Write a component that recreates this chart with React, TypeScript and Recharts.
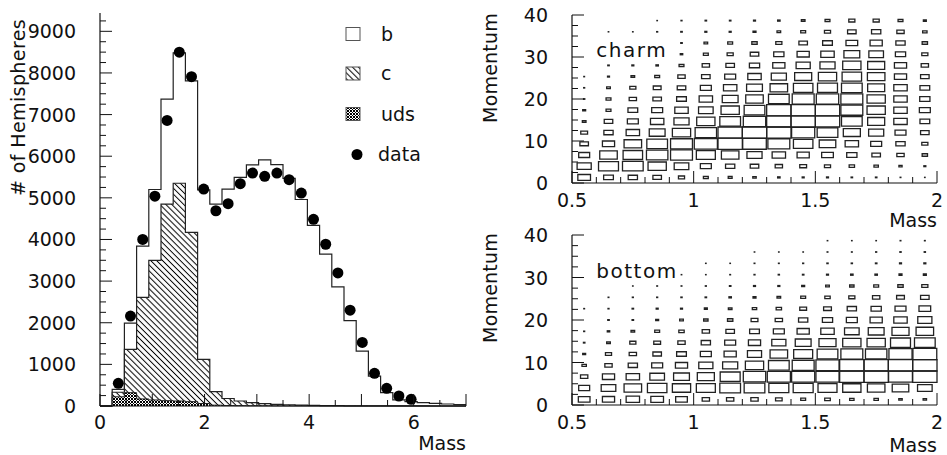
import React from "react";
import {
  ComposedChart,
  Area,
  Scatter,
  XAxis,
  YAxis,
  Legend,
  Label,
  ReferenceArea,
  ReferenceDot,
} from "recharts";

const FONT = "DejaVu Sans, sans-serif";
const INK = "#111";

// mass spectrum: 30 bins from 0 to 7
const massBins = 30;
const massMax = 7;
const bTotal = [0, 400, 1990, 3840, 5200, 7370, 8480, 7810, 5190, 4850, 5210, 5490, 5790, 5910, 5800, 5470, 4960, 4340, 3650, 2860, 2050, 1320, 720, 320, 145, 105, 80, 64, 48, 32];
const cHatched = [0, 330, 1360, 2610, 3500, 4850, 5350, 4170, 1120, 345, 180, 120, 80, 55, 40, 30, 20, 15, 10, 8, 5, 4, 3, 2, 2, 1, 1, 0, 0, 0];
const udsCross = [0, 220, 320, 170, 145, 128, 120, 104, 60, 20, 10, 8, 5, 4, 3, 2, 2, 1, 1, 0, 0, 0, 0, 0, 0, 0, 0, 0, 0, 0];
// measured points, bins 1..25
const dataCounts = [544, 2160, 4000, 5040, 6860, 8500, 7910, 5210, 4690, 4860, 5340, 5595, 5516, 5595, 5436, 5115, 4484, 3885, 3197, 2302, 1527, 784, 424, 240, 160];
const legendLabels = ["b", "c", "uds", "data"];

const massTicks = [0, 0.5, 1, 1.5, 2, 2.5, 3, 3.5, 4, 4.5, 5, 5.5, 6, 6.5, 7];
const hemiTicks = Array.from({ length: 38 }, (_, i) => i * 250);

// momentum vs mass, box size per cell (15 mass bins x 15 momentum bins), lowest momentum first
const charmBoxes = [
  [0.52, 0.4, 0.38, 0.35, 0.25, 0.2, 0.16, 0.14, 0.1, 0.08, 0.08, 0.06, 0.06, 0.03, 0.02],
  [0.58, 0.82, 0.85, 0.75, 0.6, 0.45, 0.38, 0.35, 0.3, 0.28, 0.25, 0.22, 0.18, 0.13, 0.08],
  [0.45, 0.72, 0.8, 0.88, 0.9, 0.78, 0.72, 0.62, 0.55, 0.5, 0.48, 0.42, 0.35, 0.3, 0.22],
  [0.35, 0.5, 0.72, 0.85, 0.9, 0.95, 1, 0.97, 0.9, 0.8, 0.68, 0.55, 0.45, 0.38, 0.25],
  [0.28, 0.38, 0.55, 0.65, 0.75, 0.88, 1, 1, 1, 0.95, 0.85, 0.7, 0.62, 0.45, 0.35],
  [0.15, 0.35, 0.45, 0.55, 0.62, 0.75, 0.85, 0.92, 1, 1, 1, 0.85, 0.7, 0.55, 0.4],
  [0.12, 0.2, 0.4, 0.45, 0.55, 0.6, 0.75, 0.85, 1, 1, 1, 0.9, 0.75, 0.55, 0.45],
  [0.05, 0.2, 0.3, 0.35, 0.4, 0.55, 0.65, 0.72, 0.85, 0.9, 0.92, 0.9, 0.75, 0.55, 0.42],
  [0.04, 0.15, 0.25, 0.32, 0.35, 0.45, 0.55, 0.65, 0.72, 0.8, 0.82, 0.85, 0.7, 0.55, 0.4],
  [0.03, 0.08, 0.15, 0.2, 0.3, 0.35, 0.45, 0.55, 0.62, 0.7, 0.75, 0.8, 0.72, 0.5, 0.35],
  [0, 0.06, 0.08, 0.1, 0.2, 0.3, 0.35, 0.42, 0.5, 0.58, 0.62, 0.75, 0.7, 0.5, 0.3],
  [0, 0, 0, 0, 0.1, 0.2, 0.25, 0.35, 0.42, 0.5, 0.55, 0.65, 0.6, 0.42, 0.25],
  [0, 0, 0, 0, 0.06, 0.15, 0.2, 0.22, 0.25, 0.35, 0.4, 0.48, 0.5, 0.38, 0.22],
  [0, 0.02, 0.02, 0.04, 0.06, 0.08, 0.08, 0.12, 0.15, 0.2, 0.25, 0.35, 0.38, 0.3, 0.18],
  [0, 0, 0, 0.02, 0.04, 0.06, 0.06, 0.08, 0.1, 0.15, 0.2, 0.25, 0.25, 0.2, 0.12],
];
const bottomBoxes = [
  [0.48, 0.5, 0.55, 0.52, 0.48, 0.3, 0.3, 0.3, 0.27, 0.2, 0.23, 0.18, 0.18, 0.14, 0.14],
  [0.45, 0.6, 0.72, 0.8, 0.75, 0.78, 0.85, 0.85, 0.82, 0.82, 0.78, 0.75, 0.72, 0.68, 0.6],
  [0.3, 0.5, 0.55, 0.6, 0.65, 0.7, 0.82, 0.92, 0.95, 0.95, 0.95, 1, 1, 0.98, 1],
  [0.18, 0.3, 0.38, 0.45, 0.5, 0.58, 0.62, 0.75, 0.85, 0.9, 0.95, 1, 1, 1, 1],
  [0.12, 0.25, 0.3, 0.35, 0.4, 0.45, 0.5, 0.58, 0.72, 0.78, 0.85, 0.9, 0.88, 0.95, 0.98],
  [0.06, 0.15, 0.25, 0.28, 0.3, 0.38, 0.45, 0.5, 0.58, 0.65, 0.7, 0.75, 0.75, 0.82, 0.85],
  [0.04, 0.1, 0.15, 0.2, 0.22, 0.3, 0.35, 0.4, 0.45, 0.5, 0.55, 0.6, 0.65, 0.7, 0.72],
  [0, 0.06, 0.06, 0.12, 0.15, 0.18, 0.22, 0.28, 0.3, 0.38, 0.42, 0.45, 0.5, 0.55, 0.58],
  [0.03, 0.04, 0.06, 0.08, 0.08, 0.12, 0.15, 0.18, 0.22, 0.28, 0.32, 0.38, 0.42, 0.45, 0.48],
  [0, 0.03, 0.04, 0.04, 0.05, 0.06, 0.1, 0.12, 0.15, 0.2, 0.22, 0.25, 0.3, 0.32, 0.35],
  [0, 0, 0.02, 0.03, 0.03, 0.04, 0.06, 0.08, 0.08, 0.12, 0.15, 0.18, 0.2, 0.22, 0.25],
  [0, 0, 0, 0, 0.02, 0.02, 0.03, 0.04, 0.05, 0.06, 0.08, 0.1, 0.1, 0.12, 0.12],
  [0, 0, 0, 0, 0, 0.02, 0.02, 0.03, 0.03, 0.04, 0.05, 0.05, 0.06, 0.08, 0.08],
  [0, 0, 0, 0, 0, 0, 0, 0.02, 0.02, 0.02, 0.03, 0.03, 0.04, 0.05, 0.05],
  [0, 0, 0, 0, 0, 0, 0, 0, 0, 0, 0.02, 0.02, 0.02, 0.03, 0.03],
];
const boxMassTicks = [0.5, 0.6, 0.7, 0.8, 0.9, 1, 1.1, 1.2, 1.3, 1.4, 1.5, 1.6, 1.7, 1.8, 1.9, 2];
const momTicks = [0, 2.5, 5, 7.5, 10, 12.5, 15, 17.5, 20, 22.5, 25, 27.5, 30, 32.5, 35, 37.5, 40];

const binWidth = massMax / massBins;
const histData = Array.from({ length: massBins + 1 }, (_, i) => {
  const k = Math.min(i, massBins - 1);
  return { x: i * binWidth, b: bTotal[k], c: cHatched[k], uds: udsCross[k] };
});
const dataPoints = dataCounts.map((v, i) => ({ x: (i + 1.5) * binWidth, y: v }));

const txt = { fontFamily: FONT, fontSize: 19, fill: INK };

const HemiTick = (p: any) => {
  const v = p.payload.value;
  const major = v % 1000 === 0;
  return (
    <g>
      <line x1={p.x} y1={p.y} x2={p.x + (major ? 12 : 6)} y2={p.y} stroke={INK} />
      {major && (
        <text x={p.x - 24} y={p.y + 7} textAnchor="end" {...txt}>
          {v}
        </text>
      )}
    </g>
  );
};

const MassTick = (p: any) => {
  const v = p.payload.value;
  const whole = Number.isInteger(v);
  return (
    <g>
      <line x1={p.x} y1={p.y} x2={p.x} y2={p.y - (whole ? 12 : 6)} stroke={INK} />
      {whole && v % 2 === 0 && (
        <text x={p.x} y={p.y + 23} textAnchor="middle" {...txt}>
          {v}
        </text>
      )}
    </g>
  );
};

const BoxMassTick = (p: any) => {
  const v = p.payload.value;
  const labelled = Math.abs(v * 2 - Math.round(v * 2)) < 1e-9;
  return (
    <g>
      <line x1={p.x} y1={p.y} x2={p.x} y2={p.y - (labelled ? 12 : 6)} stroke={INK} />
      {labelled && (
        <text x={p.x} y={p.y + 24} textAnchor="middle" {...txt}>
          {String(v)}
        </text>
      )}
    </g>
  );
};

const MomTick = (p: any) => {
  const v = p.payload.value;
  const major = v % 10 === 0;
  return (
    <g>
      <line x1={p.x} y1={p.y} x2={p.x + (major ? 12 : 6)} y2={p.y} stroke={INK} />
      {major && (
        <text x={p.x - 24} y={p.y + 7} textAnchor="end" {...txt}>
          {v}
        </text>
      )}
    </g>
  );
};

const massLabel = (dy: number) => (p: any) => {
  const vb = p.viewBox || { x: 0, y: 0, width: 0, height: 0 };
  return (
    <text x={vb.x + vb.width} y={vb.y + dy} textAnchor="end" {...txt}>
      Mass
    </text>
  );
};

const sideLabel = (text: string, dx: number, cy: number, spacing: number) => (p: any) => {
  const vb = p.viewBox || { x: 0, y: 0 };
  const x = vb.x + dx;
  const y = vb.y + cy;
  return (
    <text x={x} y={y} textAnchor="middle" transform={`rotate(-90, ${x}, ${y})`} letterSpacing={spacing} {...txt}>
      {text}
    </text>
  );
};

function HistLegend() {
  const rows = [22.5, 62, 102.5, 142.5];
  return (
    <svg width={110} height={150}>
      <rect x={10} y={rows[0] - 13} width={14} height={13} fill="#fff" stroke="#555" />
      <rect x={10} y={rows[1] - 13} width={14} height={13} fill="url(#cHatch)" stroke="#555" />
      <rect x={10} y={rows[2] - 13} width={14} height={13} fill="url(#udsHatch)" stroke="#555" />
      <circle cx={21} cy={rows[3] - 6} r={5.5} fill="#000" />
      {legendLabels.map((l, i) => (
        <text key={l} x={i === 3 ? 42 : 45} y={rows[i]} {...txt}>
          {l}
        </text>
      ))}
    </svg>
  );
}

function MassSpectrum() {
  return (
    <ComposedChart width={480} height={455} data={histData} margin={{ top: 13, right: 14, left: 0, bottom: 0 }}>
      <defs>
        <pattern id="cHatch" patternUnits="userSpaceOnUse" width={6} height={4.2} patternTransform="rotate(45)">
          <rect width={6} height={4.2} fill="#fff" />
          <line x1={0} y1={2.1} x2={6} y2={2.1} stroke="#000" strokeWidth={1} />
        </pattern>
        <pattern id="udsHatch" patternUnits="userSpaceOnUse" width={3} height={3}>
          <rect width={3} height={3} fill="#fff" />
          <path d="M0,0L3,3M3,0L0,3" stroke="#000" strokeWidth={1} />
        </pattern>
      </defs>
      <XAxis
        dataKey="x"
        type="number"
        domain={[0, massMax]}
        ticks={massTicks}
        interval={0}
        height={49}
        tickSize={0}
        tickMargin={0}
        tickLine={false}
        tick={MassTick}
        axisLine={{ stroke: INK, strokeWidth: 1.2 }}
        label={<Label content={massLabel(44)} />}
      />
      <XAxis xAxisId="top" orientation="top" type="number" domain={[0, massMax]} height={0} tick={false} tickLine={false} axisLine={{ stroke: INK, strokeWidth: 1.2 }} />
      <YAxis
        type="number"
        domain={[0, 9440]}
        ticks={hemiTicks}
        interval={0}
        width={100}
        tickSize={0}
        tickMargin={0}
        tickLine={false}
        tick={HemiTick}
        axisLine={{ stroke: INK, strokeWidth: 1.2 }}
        label={<Label content={sideLabel("# of Hemispheres", 25, 94.5, 0.4)} />}
      />
      <YAxis yAxisId="right" orientation="right" type="number" domain={[0, 9440]} width={0} tick={false} tickLine={false} axisLine={{ stroke: INK, strokeWidth: 1.2 }} />
      <Area type="stepAfter" dataKey="b" stroke="#222" strokeWidth={1.2} fill="#fff" fillOpacity={1} dot={false} activeDot={false} isAnimationActive={false} />
      <Area type="stepAfter" dataKey="c" stroke="#222" strokeWidth={1.2} fill="url(#cHatch)" fillOpacity={1} dot={false} activeDot={false} isAnimationActive={false} />
      <Area type="stepAfter" dataKey="uds" stroke="#222" strokeWidth={1} fill="url(#udsHatch)" fillOpacity={1} dot={false} activeDot={false} isAnimationActive={false} />
      <Scatter data={dataPoints} dataKey="y" isAnimationActive={false} shape={(p: any) => <circle cx={p.cx} cy={p.cy} r={5.5} fill="#000" />} />
      <Legend
        layout="vertical"
        align="center"
        verticalAlign="middle"
        wrapperStyle={{ left: 336, top: 18, width: 110, height: 150 }}
        content={() => <HistLegend />}
      />
    </ComposedChart>
  );
}

function BoxPanel({ rows, title, height, axisHeight }: { rows: number[][]; title: string; height: number; axisHeight: number }) {
  const massStep = 0.1;
  const momStep = 40 / 15;
  const cells: { x: number; y: number; s: number }[] = [];
  rows.forEach((row, j) =>
    row.forEach((s, i) => {
      if (s > 0) cells.push({ x: 0.5 + (i + 0.5) * massStep, y: (j + 0.5) * momStep, s });
    })
  );
  return (
    <ComposedChart width={477} height={height} margin={{ top: 15, right: 10, left: 0, bottom: 0 }}>
      <XAxis
        dataKey="x"
        type="number"
        domain={[0.5, 2]}
        ticks={boxMassTicks}
        interval={0}
        height={axisHeight}
        tickSize={0}
        tickMargin={0}
        tickLine={false}
        tick={BoxMassTick}
        axisLine={{ stroke: INK, strokeWidth: 1.2 }}
        label={<Label content={massLabel(axisHeight - 3)} />}
      />
      <XAxis xAxisId="top" orientation="top" type="number" domain={[0.5, 2]} height={0} tick={false} tickLine={false} axisLine={{ stroke: INK, strokeWidth: 1.2 }} />
      <YAxis
        type="number"
        domain={[0, 40]}
        ticks={momTicks}
        interval={0}
        width={102}
        tickSize={0}
        tickMargin={0}
        tickLine={false}
        tick={MomTick}
        axisLine={{ stroke: INK, strokeWidth: 1.2 }}
        label={<Label content={sideLabel("Momentum", 27, 53, 0.2)} />}
      />
      <YAxis yAxisId="right" orientation="right" type="number" domain={[0, 40]} width={0} tick={false} tickLine={false} axisLine={{ stroke: INK, strokeWidth: 1.2 }} />
      <Scatter data={cells} dataKey="y" isAnimationActive={false} shape={() => <g />} />
      {cells.map((c, k) => (
        <ReferenceArea
          key={k}
          x1={c.x - (c.s * massStep) / 2}
          x2={c.x + (c.s * massStep) / 2}
          y1={c.y - (c.s * momStep) / 2}
          y2={c.y + (c.s * momStep) / 2}
          fill="none"
          fillOpacity={0}
          stroke="#222"
          strokeWidth={1.3}
          ifOverflow="visible"
        />
      ))}
      <ReferenceDot
        x={0.6}
        y={30}
        r={1}
        fill="none"
        stroke="none"
        ifOverflow="visible"
        label={
          <Label
            content={(p: any) => {
              const vb = p.viewBox || { x: 0, y: 0 };
              return (
                <text x={vb.x + 1} y={vb.y + 1} fontFamily={FONT} fontSize={20} letterSpacing={1.5} fill={INK}>
                  {title}
                </text>
              );
            }}
          />
        }
      />
    </ComposedChart>
  );
}

export default function App() {
  return (
    <div style={{ position: "absolute", left: 0, top: 0, width: 947, height: 455, background: "#fff", fontFamily: FONT }}>
      <div style={{ position: "absolute", left: 0, top: 0 }}>
        <MassSpectrum />
      </div>
      <div style={{ position: "absolute", left: 470, top: 0 }}>
        <BoxPanel rows={charmBoxes} title="charm" height={230} axisHeight={47} />
      </div>
      <div style={{ position: "absolute", left: 470, top: 220 }}>
        <BoxPanel rows={bottomBoxes} title="bottom" height={235} axisHeight={50} />
      </div>
    </div>
  );
}
